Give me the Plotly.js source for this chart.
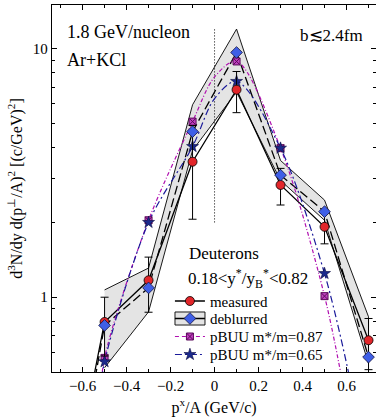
<!DOCTYPE html>
<html><head><meta charset="utf-8">
<script src="https://cdn.plot.ly/plotly-3.0.1.min.js"></script>
<style>html,body{margin:0;padding:0;background:#fff}#chart{width:376px;height:419px}</style>
</head><body><div id="chart"></div>
<script>
// ---- data ----
const xPts = [-0.7, -0.5, -0.3, -0.1, 0.1, 0.3, 0.5, 0.7];
const measured = [0.10, 0.795, 1.17, 3.51, 6.84, 2.83, 1.92, 0.671];
const measuredErrUp = [0, 0.205, 0.28, 1.40, 1.26, 0.47, 0.30, 0.15];
const measuredErrDown = [0, 0.215, 0.30, 1.45, 1.31, 0.48, 0.28, 0.16];
const deblurred = [0.08, 0.77, 1.09, 4.64, 9.66, 3.10, 2.21, 0.574];

const bandX = [-0.5, -0.3, -0.1, 0.1, 0.3, 0.5, 0.7];
const bandUpper = [1.07, 1.31, 5.95, 12.0, 3.55, 2.46, 0.834];
const bandLower = [0.52, 0.873, 3.9, 6.7, 2.95, 2.04, 0.54];

const buuX = [-0.5, -0.3, -0.1, 0.1, 0.3, 0.5];
const buu087 = [0.57, 2.04, 5.09, 8.89, 3.98, 1.01];
const buu065 = [0.55, 2.00, 4.04, 7.39, 3.98, 1.246];

const curve087X = [-0.52, -0.5, -0.3, -0.1, 0.0, 0.1, 0.3, 0.5, 0.6];
const curve087 = [0.39, 0.57, 2.04, 5.09, 7.7, 8.89, 3.98, 1.01, 0.37];
const curve065X = [-0.52, -0.5, -0.3, -0.1, 0.0, 0.1, 0.3, 0.5, 0.62];
const curve065 = [0.41, 0.55, 2.00, 4.04, 6.3, 7.39, 3.98, 1.246, 0.45];

const refLineX = [0, 0];
const refLineY = [2, 12];

const xTicks = [-0.6, -0.4, -0.2, 0, 0.2, 0.4, 0.6];
const yTicks = [1, 10];
const yTickText = ['1', '10'];
const yMinor = [0.6, 0.7, 0.8, 0.9, 2, 3, 4, 5, 6, 7, 8, 9];

const labels = {
  measured: 'measured',
  deblurred: 'deblurred',
  b087: 'pBUU m*/m=0.87',
  b065: 'pBUU m*/m=0.65'
};

// ---- styles ----
const FONT = 'Liberation Serif';
const MAG = '#b010b0';
const NAVY = '#1a1a9a';
const RED_MK = {symbol: 'circle', size: 9, color: '#e2262a', line: {color: '#000', width: 0.8}};
const DIA_MK = {symbol: 'diamond', size: 9, color: '#3f5fe6', line: {color: '#101040', width: 0.8}};
const SQX_MK = {symbol: 'square-x', size: 7, color: '#c040c0', line: {color: '#5a0a5a', width: 1}};
const STAR_MK = {symbol: 'star', size: 9, color: '#1c2a8c', line: {color: '#0a0a40', width: 0.6}};

const bandPolyX = bandX.concat(bandX.slice().reverse());
const bandPolyY = bandUpper.concat(bandLower.slice().reverse());

const traces = [
  {x: bandPolyX, y: bandPolyY, mode: 'lines', fill: 'toself', fillcolor: '#e4e4e4',
   line: {color: '#000', width: 0.9}, showlegend: false, hoverinfo: 'skip'},
  {x: refLineX, y: refLineY, mode: 'lines', line: {color: '#000', width: 1, dash: '1px,2px'},
   showlegend: false, hoverinfo: 'skip'},
  {x: xPts, y: deblurred, mode: 'lines', line: {color: '#000', width: 1.3, dash: '9px,4px'}, showlegend: false},
  {x: xPts, y: measured, mode: 'lines', line: {color: '#000', width: 1.3}, showlegend: false},
  {x: curve087X, y: curve087, mode: 'lines', line: {color: MAG, width: 1.2, dash: '4px,2px,1px,2px', shape: 'spline', smoothing: 0.9}, showlegend: false},
  {x: curve065X, y: curve065, mode: 'lines', line: {color: NAVY, width: 1.2, dash: '7px,3px,2px,3px', shape: 'spline', smoothing: 0.9}, showlegend: false},
  {x: buuX, y: buu087, mode: 'markers', marker: SQX_MK, showlegend: false},
  {x: buuX, y: buu065, mode: 'markers', marker: STAR_MK, showlegend: false},
  {x: xPts, y: measured, mode: 'markers', name: labels.measured,
   error_y: {type: 'data', symmetric: false, array: measuredErrUp, arrayminus: measuredErrDown, color: '#000', thickness: 1, width: 4},
   marker: RED_MK, showlegend: false},
  {x: xPts, y: deblurred, mode: 'markers', name: labels.deblurred, marker: DIA_MK, showlegend: false},
  // legend entries (one legend each, for tight row spacing)
  {x: [null], y: [null], mode: 'lines+markers', name: labels.measured, legend: 'legend',
   line: {color: '#000', width: 1.3}, marker: RED_MK},
  {x: [null], y: [null], mode: 'lines+markers', name: labels.deblurred, legend: 'legend2',
   line: {color: '#000', width: 1.3}, marker: DIA_MK},
  {x: [null], y: [null], mode: 'lines+markers', name: labels.b087, legend: 'legend3',
   line: {color: MAG, width: 1.2, dash: '4px,3px'}, marker: SQX_MK},
  {x: [null], y: [null], mode: 'lines+markers', name: labels.b065, legend: 'legend4',
   line: {color: NAVY, width: 1.2, dash: '7px,3px,2px,3px'}, marker: STAR_MK}
];

const axisCommon = {
  showgrid: false, zeroline: false, showline: true, linecolor: '#000', linewidth: 1.2,
  mirror: 'ticks', ticks: 'inside', tickcolor: '#000', tickwidth: 1,
  tickfont: {family: FONT, size: 15, color: '#000'}
};

function legendAt(y) {
  return {x: 0.364, y: y, xanchor: 'left', yanchor: 'top', bgcolor: 'rgba(0,0,0,0)',
    font: {family: FONT, size: 15, color: '#000'}, itemwidth: 30};
}

const layout = {
  width: 376, height: 419,
  margin: {l: 52, r: 0, t: 5, b: 47},
  paper_bgcolor: '#fff', plot_bgcolor: '#fff',
  font: {family: FONT, color: '#000'},
  xaxis: Object.assign({}, axisCommon, {
    range: [-0.739, 0.734], tickmode: 'array', tickvals: xTicks, ticklen: 5,
    minor: {dtick: 0.1, tick0: 0, ticks: 'inside', ticklen: 3, tickcolor: '#000'},
    title: {text: 'p<sup>x</sup>/A (GeV/c)', font: {family: FONT, size: 16}, standoff: 8}
  }),
  yaxis: Object.assign({}, axisCommon, {
    type: 'log', range: [Math.log10(0.5), Math.log10(15)],
    tickmode: 'array', tickvals: yTicks, ticktext: yTickText, ticklen: 5,
    minor: {tickmode: 'array', tickvals: yMinor, ticks: 'inside', ticklen: 3, tickcolor: '#000'},
    title: {text: 'd<sup>3</sup>N/dy d(p<sup>\u22A5</sup>/A)<sup>2</sup> [(c/GeV)<sup>2</sup>]', font: {family: FONT, size: 16}, standoff: 6}
  }),
  showlegend: true,
  legend: legendAt(0.2377),
  legend2: legendAt(0.1901),
  legend3: legendAt(0.1410),
  legend4: legendAt(0.0920),
  shapes: [
    {type: 'rect', xref: 'paper', yref: 'paper', x0: 0.3796, x1: 0.4722, y0: 0.128, y1: 0.1635,
     fillcolor: '#e4e4e4', line: {color: '#000', width: 0.9}, layer: 'above'}
  ],
  annotations: [
    {text: '1.8 GeV/nucleon', xref: 'paper', yref: 'paper', x: 0.040, y: 0.927, xanchor: 'left', yanchor: 'middle', showarrow: false, font: {family: FONT, size: 18}},
    {text: 'Ar+KCl', xref: 'paper', yref: 'paper', x: 0.040, y: 0.850, xanchor: 'left', yanchor: 'middle', showarrow: false, font: {family: FONT, size: 18}},
    {text: 'b\u22722.4fm', xref: 'paper', yref: 'paper', x: 0.759, y: 0.918, xanchor: 'left', yanchor: 'middle', showarrow: false, font: {family: FONT, size: 17}},
    {text: 'Deuterons', xref: 'paper', yref: 'paper', x: 0.416, y: 0.322, xanchor: 'left', yanchor: 'middle', showarrow: false, font: {family: FONT, size: 17}},
    {text: '0.18<y<sup>*</sup>/y<sub>B</sub><sup>*</sup><0.82', xref: 'paper', yref: 'paper', x: 0.413, y: 0.255, xanchor: 'left', yanchor: 'middle', showarrow: false, font: {family: FONT, size: 17}}
  ]
};

Plotly.newPlot('chart', traces, layout, {staticPlot: true, displayModeBar: false});
</script>
</body></html>
